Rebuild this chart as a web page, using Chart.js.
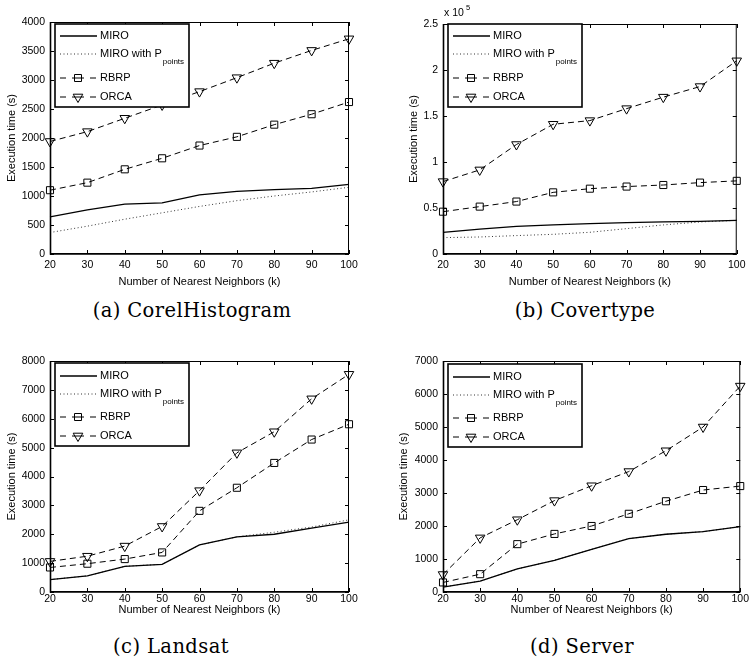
<!DOCTYPE html>
<html>
<head>
<meta charset="utf-8">
<script src="https://cdn.jsdelivr.net/npm/chart.js@4.4.0/dist/chart.umd.min.js"></script>
<style>
  body { margin: 0; background: #fff; }
  #wrap { position: relative; width: 750px; height: 667px; overflow: hidden; }
  #wrap canvas { position: absolute; }
  .cap { position: absolute; transform: translate(-50%, -50%); font-family: "DejaVu Serif", serif; font-size: 19.5px; letter-spacing: 0.4px; white-space: nowrap; color: #000; }
</style>
</head>
<body>
<div id="wrap">
  <canvas id="c1" width="375" height="295" style="left:0;top:0"></canvas>
  <canvas id="c2" width="375" height="295" style="left:375px;top:0"></canvas>
  <canvas id="c3" width="375" height="295" style="left:0;top:334px"></canvas>
  <canvas id="c4" width="375" height="295" style="left:375px;top:334px"></canvas>
  <div class="cap" style="left:192px;top:310px">(a) CorelHistogram</div>
  <div class="cap" style="left:585px;top:310px">(b) Covertype</div>
  <div class="cap" style="left:171px;top:646px">(c) Landsat</div>
  <div class="cap" style="left:582px;top:646px">(d) Server</div>
</div>
<script>
// number of nearest neighbours k (x axis)
const neighbors = [20, 30, 40, 50, 60, 70, 80, 90, 100];

// (a) CorelHistogram, seconds
const corelMiro  = [640, 760, 860, 880, 1020, 1080, 1110, 1130, 1200];
const corelMiroP = [370, 480, 600, 710, 820, 920, 1000, 1070, 1150];
const corelRbrp  = [1100, 1230, 1460, 1650, 1870, 2020, 2230, 2410, 2620];
const corelOrca  = [1940, 2110, 2340, 2570, 2800, 3040, 3290, 3510, 3710];

// (b) Covertype, seconds (axis shown x 10^5)
const covMiro  = [23600, 27000, 30000, 31600, 33000, 34000, 35000, 35500, 36600];
const covMiroP = [17800, 18500, 20000, 21400, 23600, 27600, 31600, 34800, 36600];
const covRbrp  = [46000, 51500, 57000, 67000, 71000, 73300, 75000, 77600, 79500];
const covOrca  = [78700, 91400, 119000, 141000, 145000, 158000, 170500, 182000, 210000];

// (c) Landsat
const landMiro  = [430, 560, 890, 960, 1630, 1910, 2000, 2210, 2420];
const landMiroP = [430, 560, 890, 960, 1630, 1910, 2070, 2250, 2500];
const landRbrp  = [850, 980, 1140, 1370, 2810, 3610, 4470, 5280, 5810];
const landOrca  = [1060, 1240, 1590, 2270, 3510, 4820, 5550, 6690, 7540];

// (d) Server
const servMiro  = [150, 330, 700, 960, 1290, 1620, 1750, 1830, 1980];
const servMiroP = [150, 330, 700, 960, 1290, 1620, 1750, 1830, 1980];
const servRbrp  = [290, 540, 1450, 1760, 2000, 2370, 2750, 3090, 3210];
const servOrca  = [530, 1640, 2190, 2770, 3220, 3650, 4280, 5000, 6240];

// y axis ranges
const corelTicks = { max: 4000, step: 500 };
const covTicks   = { max: 250000, step: 50000 };
const landTicks  = { max: 8000, step: 1000 };
const servTicks  = { max: 7000, step: 1000 };

const legendLabels = ['MIRO', 'MIRO with P', 'RBRP', 'ORCA'];
const SANS = '"Liberation Sans", Arial, sans-serif';

function pts(vals) {
  return neighbors.map((k, i) => ({ x: k, y: vals[i] }));
}

function makeDatasets(miro, miroP, rbrp, orca) {
  return [
    { label: legendLabels[0], data: pts(miro), borderColor: '#000', borderWidth: 1.3, pointRadius: 0 },
    { label: legendLabels[1], data: pts(miroP), borderColor: '#333', borderWidth: 1, borderDash: [1, 2.5], pointRadius: 0 },
    { label: legendLabels[2], data: pts(rbrp), borderColor: '#000', borderWidth: 1, borderDash: [6, 4],
      pointStyle: 'rect', pointRadius: 5, pointBorderWidth: 1, pointBorderColor: '#000', pointBackgroundColor: 'rgba(0,0,0,0)' },
    { label: legendLabels[3], data: pts(orca), borderColor: '#000', borderWidth: 1, borderDash: [6, 4],
      pointStyle: 'triangle', rotation: 180, pointRadius: 5.5, pointBorderWidth: 1, pointBorderColor: '#000', pointBackgroundColor: 'rgba(0,0,0,0)' }
  ];
}

function drawMarker(ctx, style, x, y) {
  ctx.beginPath();
  if (style === 'rect') {
    ctx.rect(x - 3.5, y - 3.5, 7, 7);
  } else {
    ctx.moveTo(x - 4.8, y - 2.8);
    ctx.lineTo(x + 4.8, y - 2.8);
    ctx.lineTo(x, y + 5.5);
    ctx.closePath();
  }
  ctx.stroke();
}

// box, inward ticks, legend and exponent label like the matlab figure
const framePlugin = {
  id: 'frame',
  afterDatasetsDraw(chart, args, opts) {
    const { ctx, chartArea: a, scales: { x, y } } = chart;
    ctx.save();
    ctx.strokeStyle = '#000';
    ctx.lineWidth = 1;
    ctx.setLineDash([]);
    ctx.strokeRect(a.left + 0.5, a.top + 0.5, a.right - a.left - 1, a.bottom - a.top - 1);
    ctx.beginPath();
    x.ticks.forEach(t => {
      const px = Math.round(x.getPixelForValue(t.value)) + 0.5;
      ctx.moveTo(px, a.bottom); ctx.lineTo(px, a.bottom - 4);
      ctx.moveTo(px, a.top); ctx.lineTo(px, a.top + 4);
    });
    y.ticks.forEach(t => {
      const py = Math.round(y.getPixelForValue(t.value)) + 0.5;
      ctx.moveTo(a.left, py); ctx.lineTo(a.left + 4, py);
      ctx.moveTo(a.right, py); ctx.lineTo(a.right - 4, py);
    });
    ctx.stroke();
    // thicker left / bottom axis
    ctx.lineWidth = 1.6;
    ctx.beginPath();
    ctx.moveTo(a.left + 0.5, a.top); ctx.lineTo(a.left + 0.5, a.bottom);
    ctx.lineTo(a.right, a.bottom);
    ctx.stroke();

    // legend
    const bx = a.left + 5, by = a.top + opts.legendTop, bw = 134, bh = 83;
    ctx.fillStyle = '#fff';
    ctx.fillRect(bx, by, bw, bh);
    ctx.lineWidth = 1.6;
    ctx.strokeRect(bx, by, bw, bh);
    const rows = opts.rows;
    ctx.font = '11px ' + SANS;
    ctx.textBaseline = 'middle';
    ctx.fillStyle = '#000';
    chart.data.datasets.forEach((ds, i) => {
      const ry = by + rows[i];
      ctx.strokeStyle = ds.borderColor;
      ctx.lineWidth = ds.borderWidth;
      if (i < 2) {
        ctx.setLineDash(ds.borderDash || []);
        ctx.beginPath();
        ctx.moveTo(bx + 5, ry); ctx.lineTo(bx + 42, ry);
        ctx.stroke();
      } else {
        ctx.setLineDash([]);
        ctx.beginPath();
        ctx.moveTo(bx + 5, ry); ctx.lineTo(bx + 11, ry);
        ctx.moveTo(bx + 17, ry); ctx.lineTo(bx + 29, ry);
        ctx.moveTo(bx + 35, ry); ctx.lineTo(bx + 41, ry);
        ctx.stroke();
        drawMarker(ctx, ds.pointStyle, bx + 23, ry);
      }
      ctx.fillText(ds.label, bx + 45, ry);
      if (i === 1) {
        const w = ctx.measureText(ds.label).width;
        ctx.font = '8px ' + SANS;
        ctx.fillText('points', bx + 45 + w + 1, ry + 8);
        ctx.font = '11px ' + SANS;
      }
    });

    if (opts.exponent) {
      ctx.font = '10.5px ' + SANS;
      ctx.textBaseline = 'middle';
      ctx.fillText('x 10', a.left + 1, a.top - 11);
      ctx.font = '7.5px ' + SANS;
      ctx.fillText('5', a.left + 23, a.top - 16);
    }
    ctx.restore();
  }
};

function buildChart(id, sets, ticks, geo) {
  const canvas = document.getElementById(id);
  const W = canvas.width, H = canvas.height;
  return new Chart(canvas, {
    type: 'line',
    data: { datasets: makeDatasets(...sets) },
    plugins: [framePlugin],
    options: {
      responsive: false,
      animation: false,
      events: [],
      clip: false,
      elements: { line: { tension: 0 } },
      layout: { padding: { left: 0, top: geo.top, right: W - geo.right, bottom: 0 } },
      plugins: {
        legend: { display: false },
        tooltip: { enabled: false },
        frame: { legendTop: geo.legendTop, rows: geo.rows, exponent: geo.exponent }
      },
      scales: {
        x: {
          type: 'linear', min: 20, max: 100,
          grid: { display: false, drawTicks: false },
          border: { display: false },
          ticks: { stepSize: 10, padding: geo.xPad, color: '#000', font: { family: SANS, size: 10.5 } },
          title: { display: true, text: 'Number of Nearest Neighbors (k)', color: '#000',
                   font: { family: SANS, size: 11 }, padding: { top: 0, bottom: geo.xTitlePad } },
          afterFit(scale) { scale.height = H - geo.bottom; }
        },
        y: {
          type: 'linear', min: 0, max: ticks.max,
          grid: { display: false, drawTicks: false },
          border: { display: false },
          ticks: {
            stepSize: ticks.step, padding: 5, color: '#000', font: { family: SANS, size: 10.5 },
            callback: v => geo.exponent ? String(v / 100000) : String(v)
          },
          title: { display: true, text: 'Execution time (s)', color: '#000',
                   font: { family: SANS, size: 11 }, padding: { top: geo.yTitlePad, bottom: 0 } },
          afterFit(scale) { scale.width = geo.left; }
        }
      }
    }
  });
}

buildChart('c1', [corelMiro, corelMiroP, corelRbrp, corelOrca], corelTicks,
  { left: 50, right: 349, top: 22, bottom: 254, xPad: 4.5, xTitlePad: 6.4, yTitlePad: 5.4,
    legendTop: 2, rows: [12, 30, 54, 73] });
buildChart('c2', [covMiro, covMiroP, covRbrp, covOrca], covTicks,
  { left: 68, right: 366, top: 24, bottom: 254, xPad: 4.5, xTitlePad: 6.4, yTitlePad: 32.4,
    legendTop: 0, rows: [12, 30, 54, 73], exponent: true });
buildChart('c3', [landMiro, landMiroP, landRbrp, landOrca], landTicks,
  { left: 50, right: 349, top: 27, bottom: 258, xPad: 1, xTitlePad: 12.4, yTitlePad: 5.4,
    legendTop: 2, rows: [13, 31, 54, 73] });
buildChart('c4', [servMiro, servMiroP, servRbrp, servOrca], servTicks,
  { left: 68, right: 366, top: 27, bottom: 258, xPad: 1, xTitlePad: 12.4, yTitlePad: 22.4,
    legendTop: 3, rows: [13, 31, 54, 73] });
</script>
</body>
</html>
